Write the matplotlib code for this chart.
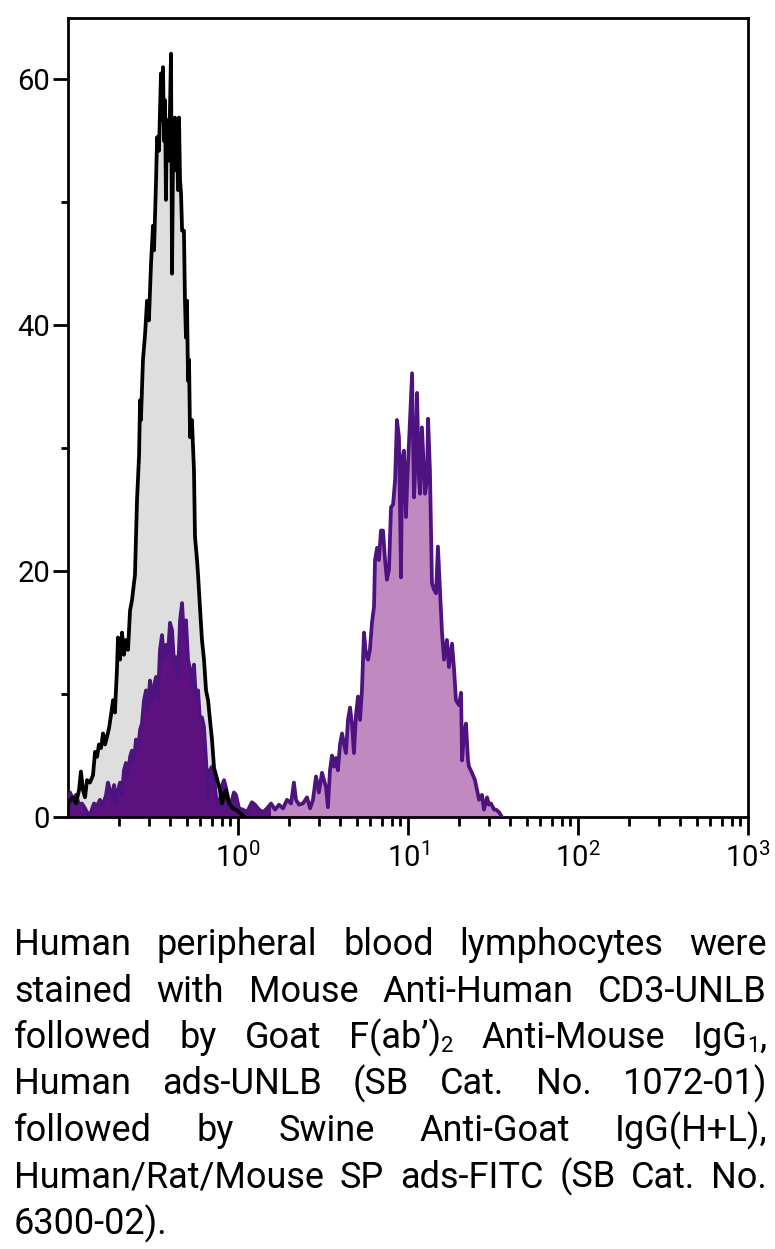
import numpy as np
import matplotlib.pyplot as plt
from matplotlib import font_manager
from matplotlib.ticker import FixedLocator, LogLocator, NullFormatter

# control histogram (grey, black outline): log10 channel, count
ctrl_logx = [-1.000, -0.988, -0.971, -0.953, -0.935, -0.924, -0.912, -0.900, -0.888, -0.871,
             -0.853, -0.841, -0.829, -0.818, -0.806, -0.794, -0.782, -0.771, -0.759, -0.747,
             -0.735, -0.724, -0.712, -0.706, -0.694, -0.682, -0.671, -0.659, -0.647, -0.635,
             -0.624, -0.612, -0.606, -0.594, -0.582, -0.576, -0.571, -0.559, -0.547, -0.535,
             -0.524, -0.512, -0.500, -0.494, -0.482, -0.476, -0.465, -0.453, -0.447, -0.441,
             -0.435, -0.429, -0.424, -0.418, -0.406, -0.394, -0.388, -0.382, -0.371, -0.365,
             -0.359, -0.353, -0.347, -0.341, -0.335, -0.329, -0.318, -0.312, -0.306, -0.300,
             -0.294, -0.288, -0.282, -0.271, -0.259, -0.253, -0.241, -0.235, -0.224, -0.212,
             -0.200, -0.188, -0.176, -0.165, -0.153, -0.141, -0.129, -0.118, -0.106, -0.094,
             -0.082, -0.071, -0.059, -0.047, -0.029, -0.012, 0.006, 0.024, 0.041]
ctrl_count = [1.0, 1.4, 1.6, 1.1, 2.2, 3.7, 2.2, 1.6, 3.0, 2.8,
              3.4, 5.3, 4.9, 5.9, 5.6, 6.8, 5.9, 6.5, 7.2, 8.3,
              9.5, 8.5, 12.0, 14.6, 12.8, 15.0, 13.2, 14.4, 13.6, 16.8,
              17.6, 19.0, 19.7, 25.8, 29.4, 33.9, 32.3, 37.2, 39.2, 42.0,
              40.4, 44.9, 48.1, 46.1, 51.8, 55.3, 54.2, 60.5, 56.7, 61.0,
              55.0, 58.3, 50.2, 56.7, 53.4, 62.1, 44.2, 54.2, 56.9, 52.6,
              56.7, 51.0, 56.9, 51.8, 50.7, 47.7, 47.7, 42.0, 39.0, 42.0,
              35.5, 37.2, 30.9, 32.3, 28.2, 22.8, 20.9, 19.7, 17.1, 14.4,
              12.8, 10.3, 9.5, 7.9, 6.3, 4.0, 3.4, 2.8, 2.2, 1.1,
              1.8, 2.2, 1.4, 1.0, 0.7, 0.6, 0.4, 0.2, 0.0]

# stained histogram (purple): log10 channel, count
stain_logx = [-1.000, -0.988, -0.971, -0.953, -0.935, -0.918, -0.900, -0.882, -0.865, -0.847,
              -0.829, -0.812, -0.794, -0.776, -0.765, -0.753, -0.741, -0.729, -0.718, -0.706,
              -0.694, -0.682, -0.671, -0.659, -0.647, -0.635, -0.624, -0.612, -0.600, -0.588,
              -0.576, -0.565, -0.553, -0.541, -0.529, -0.518, -0.506, -0.494, -0.482, -0.471,
              -0.459, -0.447, -0.435, -0.424, -0.412, -0.400, -0.388, -0.376, -0.365, -0.353,
              -0.341, -0.329, -0.318, -0.306, -0.294, -0.282, -0.271, -0.259, -0.247, -0.235,
              -0.224, -0.212, -0.200, -0.188, -0.176, -0.165, -0.153, -0.141, -0.129, -0.118,
              -0.106, -0.094, -0.082, -0.071, -0.059, -0.047, -0.035, -0.024, -0.012, 0.006,
              0.029, 0.053, 0.082, 0.100, 0.124, 0.147, 0.171, 0.194, 0.218, 0.241,
              0.265, 0.288, 0.312, 0.329, 0.341, 0.359, 0.382, 0.406, 0.424, 0.441,
              0.459, 0.476, 0.494, 0.506, 0.518, 0.529, 0.541, 0.553, 0.565, 0.576,
              0.588, 0.600, 0.612, 0.624, 0.635, 0.647, 0.659, 0.671, 0.682, 0.694,
              0.706, 0.718, 0.729, 0.741, 0.753, 0.765, 0.776, 0.788, 0.800, 0.806,
              0.818, 0.829, 0.841, 0.853, 0.865, 0.876, 0.888, 0.900, 0.912, 0.924,
              0.935, 0.947, 0.959, 0.965, 0.976, 0.988, 0.994, 1.012, 1.024, 1.035,
              1.047, 1.053, 1.065, 1.071, 1.082, 1.094, 1.100, 1.112, 1.118, 1.129,
              1.135, 1.141, 1.153, 1.165, 1.176, 1.188, 1.194, 1.200, 1.212, 1.229,
              1.241, 1.259, 1.271, 1.282, 1.300, 1.312, 1.318, 1.329, 1.341, 1.353,
              1.359, 1.376, 1.394, 1.406, 1.418, 1.435, 1.447, 1.465, 1.476, 1.488,
              1.506, 1.518, 1.535, 1.553]
stain_count = [1.4, 2.0, 1.4, 1.8, 1.0, 1.1, 0.7, 0.2, 0.4, 1.1,
               0.9, 1.4, 1.0, 1.8, 2.8, 2.2, 1.4, 2.6, 1.1, 2.2,
               2.8, 1.8, 3.8, 4.4, 3.3, 4.9, 5.4, 4.6, 6.3, 5.4,
               7.1, 7.6, 9.5, 10.3, 8.7, 11.1, 9.3, 10.7, 11.4, 9.5,
               13.6, 14.8, 12.8, 14.0, 13.2, 15.8, 15.2, 12.4, 13.0, 11.4,
               16.0, 17.4, 14.6, 16.0, 12.8, 12.0, 10.9, 12.4, 9.5, 10.3,
               7.9, 8.1, 7.3, 4.6, 1.4, 3.8, 4.1, 3.3, 1.6, 0.8,
               1.4, 2.6, 3.0, 2.4, 1.6, 0.6, 1.4, 2.0, 1.8, 0.7,
               0.6, 0.4, 1.2, 1.0, 0.6, 0.4, 0.7, 1.1, 0.6, 1.0,
               0.7, 1.4, 1.1, 2.8, 1.4, 1.0, 1.1, 1.6, 0.7, 1.4,
               3.3, 2.0, 3.6, 3.0, 2.4, 0.8, 3.8, 5.0, 4.1, 4.8,
               3.8, 5.9, 6.8, 5.9, 5.2, 7.9, 8.9, 7.5, 5.2, 8.3,
               9.8, 7.9, 10.3, 15.0, 13.2, 12.8, 13.6, 15.8, 17.1, 20.9,
               21.9, 20.9, 23.3, 23.3, 20.9, 19.3, 20.1, 25.2, 25.4, 27.4,
               32.3, 30.9, 19.5, 29.0, 29.8, 24.4, 26.8, 32.5, 36.1, 26.0,
               29.8, 34.5, 27.4, 26.3, 31.7, 28.2, 26.3, 27.4, 32.4, 28.2,
               23.6, 19.0, 18.5, 18.2, 22.0, 18.5, 16.8, 15.0, 12.8, 14.4,
               12.2, 14.1, 12.0, 9.5, 9.1, 10.1, 4.6, 6.7, 7.6, 4.6,
               4.1, 3.6, 3.0, 2.2, 1.4, 1.8, 0.6, 1.6, 1.0, 1.1,
               0.6, 0.6, 0.4, 0.0]

y_major = [0, 20, 40, 60]
y_minor = [10, 30, 50]
x_major = [1, 10, 100, 1000]
x_labels = [r'$10^{0}$', r'$10^{1}$', r'$10^{2}$', r'$10^{3}$']

caption_lines = [
    "Human peripheral blood lymphocytes were",
    "stained with Mouse Anti-Human CD3-UNLB",
    "followed by Goat F(ab\u2019)_2 Anti-Mouse IgG_1,",
    "Human ads-UNLB (SB Cat. No. 1072-01)",
    "followed by Swine Anti-Goat IgG(H+L),",
    "Human/Rat/Mouse SP ads-FITC (SB Cat. No.",
    "6300-02).",
]

installed = {f.name for f in font_manager.fontManager.ttflist}
tick_font = 'Liberation Sans Narrow' if 'Liberation Sans Narrow' in installed else 'Roboto'
cap_font = 'Roboto'

plt.rcParams['mathtext.default'] = 'regular'

W, H = 775, 1249
fig = plt.figure(figsize=(W / 100, H / 100), dpi=100)
ax = fig.add_axes([68 / W, 1 - 817 / H, 680 / W, 799 / H])

cx = 10 ** np.array(ctrl_logx)
cy = np.array(ctrl_count)
sx = 10 ** np.array(stain_logx)
sy = np.array(stain_count)

ax.fill_between(cx, 0, cy, color='#dedede', lw=0, zorder=1)
dark = sx <= 10 ** 0.2
light = sx >= 10 ** 0.18
ax.fill_between(sx[dark], 0, sy[dark], color='#5e1280', lw=0, zorder=2)
ax.fill_between(sx[light], 0, sy[light], color='#c08ac0', lw=0, zorder=2)
ax.plot(sx, sy, color='#4f1381', lw=2.7, zorder=3, solid_joinstyle='round')
ax.plot(cx, cy, color='black', lw=2.7, zorder=4, solid_joinstyle='round')

ax.set_xscale('log')
ax.set_xlim(0.1, 1000)
ax.set_ylim(0, 65)

ax.xaxis.set_major_locator(FixedLocator(x_major))
ax.xaxis.set_minor_locator(LogLocator(base=10, subs=np.arange(2, 10)))
ax.xaxis.set_minor_formatter(NullFormatter())
ax.set_xticklabels(x_labels)
ax.yaxis.set_major_locator(FixedLocator(y_major))
ax.yaxis.set_minor_locator(FixedLocator(y_minor))
ax.set_yticklabels([str(v) for v in y_major])

for sp in ax.spines.values():
    sp.set_linewidth(2.0)
ax.tick_params(which='both', direction='out', width=2.0, color='black')
ax.tick_params(axis='y', which='major', length=11, pad=2)
ax.tick_params(axis='y', which='minor', length=5)
ax.tick_params(axis='x', which='major', length=13, pad=5)
ax.tick_params(axis='x', which='minor', length=6.5)
for lab in ax.get_xticklabels() + ax.get_yticklabels():
    lab.set_fontfamily(tick_font)
    lab.set_fontsize(21)

# justified caption, word by word
cap_size = 26
sub_size = 16
left, right = 14, 767
base0, step = 955, 46.5

fig.canvas.draw()
renderer = fig.canvas.get_renderer()


def pieces(word):
    out = []
    i = 0
    buf = ''
    while i < len(word):
        if word[i] == '_' and i + 1 < len(word):
            if buf:
                out.append((buf, False))
                buf = ''
            out.append((word[i + 1], True))
            i += 2
        else:
            buf += word[i]
            i += 1
    if buf:
        out.append((buf, False))
    return out


def width_of(s, size):
    t = fig.text(0, 0, s, fontsize=size, family=cap_font)
    w = t.get_window_extent(renderer).width
    t.remove()
    return w


space_w = width_of('a a', cap_size) - width_of('aa', cap_size)

for li, line in enumerate(caption_lines):
    words = [pieces(w) for w in line.split()]
    widths = []
    for wp in words:
        widths.append(sum(width_of(s, sub_size if sub else cap_size) for s, sub in wp))
    if li < len(caption_lines) - 1 and len(words) > 1:
        gap = (right - left - sum(widths)) / (len(words) - 1)
    else:
        gap = space_w
    y = base0 + li * step
    x = left
    for wp, ww in zip(words, widths):
        px = x
        for s, sub in wp:
            size = sub_size if sub else cap_size
            dy = 4 if sub else 0
            fig.text(px / W, 1 - (y + dy) / H, s, fontsize=size, family=cap_font,
                     va='baseline', ha='left', color='black')
            px += width_of(s, size)
        x += ww + gap

fig.savefig('out.png', dpi=100)
